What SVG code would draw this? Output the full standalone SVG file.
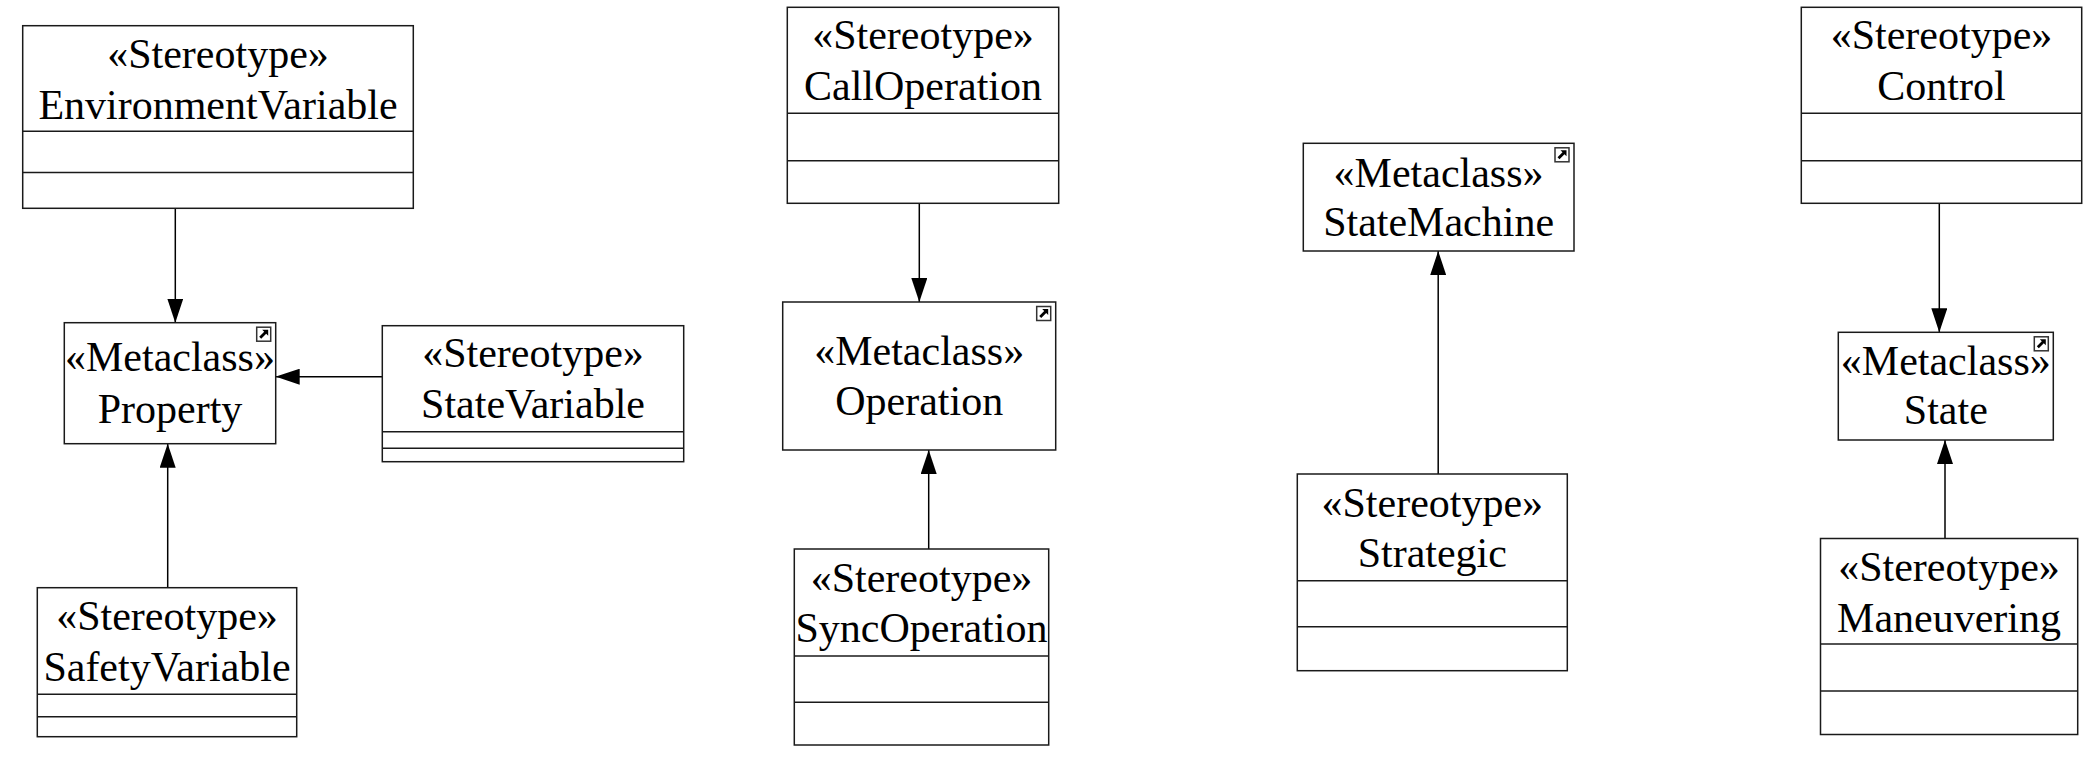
<svg xmlns="http://www.w3.org/2000/svg" width="2100" height="774" viewBox="0 0 2100 774">
<style>
.box{fill:#fff;stroke:#1a1a1a;stroke-width:1.5}
.div{stroke:#1a1a1a;stroke-width:1.5}
.t{font-family:"Liberation Serif","Times New Roman",serif;font-size:42px;fill:#000;text-anchor:middle}
.edge{stroke:#000;stroke-width:1.5;fill:none}
.ic{fill:#fff;stroke:#333;stroke-width:1.5}
.ia{fill:#000;stroke:none}
</style>
<defs>
<marker id="arr" markerUnits="userSpaceOnUse" markerWidth="24" markerHeight="16" refX="24" refY="8" orient="auto" viewBox="0 0 24 16">
<path d="M0,0 L24,8 L0,16 z" fill="#000"/>
</marker>
<g id="icon">
<rect class="ic" x="0" y="0" width="14" height="14"/>
<path class="ia" d="M2.5,9.5 L7.5,4.5 L5.5,2.5 L11.5,2.5 L11.5,8.5 L9.5,6.5 L4.5,11.5 z"/>
</g>
</defs>
<g id="connectors">
<line class="edge" x1="175.3" y1="208.3" x2="175.3" y2="322.7" marker-end="url(#arr)"/>
<line class="edge" x1="382.3" y1="376.7" x2="275.7" y2="376.7" marker-end="url(#arr)"/>
<line class="edge" x1="167.7" y1="587.7" x2="167.7" y2="443.7" marker-end="url(#arr)"/>
<line class="edge" x1="919.3" y1="203.3" x2="919.3" y2="302" marker-end="url(#arr)"/>
<line class="edge" x1="928.7" y1="549" x2="928.7" y2="450" marker-end="url(#arr)"/>
<line class="edge" x1="1438.2" y1="474" x2="1438.2" y2="251" marker-end="url(#arr)"/>
<line class="edge" x1="1939.3" y1="203.3" x2="1939.3" y2="332.3" marker-end="url(#arr)"/>
<line class="edge" x1="1945" y1="538.5" x2="1945" y2="440" marker-end="url(#arr)"/>
</g>
<g id="EnvironmentVariable">
<rect class="box" x="22.7" y="25.7" width="390.6" height="182.6"/>
<line class="div" x1="22.7" y1="131.3" x2="413.3" y2="131.3"/>
<line class="div" x1="22.7" y1="172.5" x2="413.3" y2="172.5"/>
<text class="t" x="218" y="67.7">«Stereotype»</text>
<text class="t" x="218" y="119">EnvironmentVariable</text>
</g>
<g id="Property">
<rect class="box" x="64.3" y="322.7" width="211.4" height="121"/>
<use href="#icon" x="256.7" y="327.2"/>
<text class="t" x="170" y="370.5">«Metaclass»</text>
<text class="t" x="170" y="422.5">Property</text>
</g>
<g id="StateVariable">
<rect class="box" x="382.3" y="325.7" width="301.4" height="136"/>
<line class="div" x1="382.3" y1="431.7" x2="683.7" y2="431.7"/>
<line class="div" x1="382.3" y1="448.3" x2="683.7" y2="448.3"/>
<text class="t" x="533" y="367">«Stereotype»</text>
<text class="t" x="533" y="418.3">StateVariable</text>
</g>
<g id="SafetyVariable">
<rect class="box" x="37.3" y="587.7" width="259.4" height="149"/>
<line class="div" x1="37.3" y1="694.3" x2="296.7" y2="694.3"/>
<line class="div" x1="37.3" y1="716.7" x2="296.7" y2="716.7"/>
<text class="t" x="167" y="629.5">«Stereotype»</text>
<text class="t" x="167" y="681">SafetyVariable</text>
</g>
<g id="CallOperation">
<rect class="box" x="787.3" y="7.3" width="271.4" height="196"/>
<line class="div" x1="787.3" y1="113.3" x2="1058.7" y2="113.3"/>
<line class="div" x1="787.3" y1="160.7" x2="1058.7" y2="160.7"/>
<text class="t" x="923" y="49.3">«Stereotype»</text>
<text class="t" x="923" y="100.3">CallOperation</text>
</g>
<g id="Operation">
<rect class="box" x="782.7" y="302" width="273" height="148"/>
<use href="#icon" x="1036.7" y="306.5"/>
<text class="t" x="919.2" y="365">«Metaclass»</text>
<text class="t" x="919.2" y="415">Operation</text>
</g>
<g id="SyncOperation">
<rect class="box" x="794.3" y="549" width="254.4" height="196"/>
<line class="div" x1="794.3" y1="656" x2="1048.7" y2="656"/>
<line class="div" x1="794.3" y1="702.3" x2="1048.7" y2="702.3"/>
<text class="t" x="921.5" y="591.7">«Stereotype»</text>
<text class="t" x="921.5" y="641.7">SyncOperation</text>
</g>
<g id="StateMachine">
<rect class="box" x="1303.3" y="143.3" width="270.7" height="107.7"/>
<use href="#icon" x="1555" y="147.8"/>
<text class="t" x="1438.6" y="187">«Metaclass»</text>
<text class="t" x="1438.6" y="236">StateMachine</text>
</g>
<g id="Strategic">
<rect class="box" x="1297.3" y="474" width="270" height="196.7"/>
<line class="div" x1="1297.3" y1="580.7" x2="1567.3" y2="580.7"/>
<line class="div" x1="1297.3" y1="626.7" x2="1567.3" y2="626.7"/>
<text class="t" x="1432.3" y="517.3">«Stereotype»</text>
<text class="t" x="1432.3" y="567.3">Strategic</text>
</g>
<g id="Control">
<rect class="box" x="1801.3" y="7.3" width="280.4" height="196"/>
<line class="div" x1="1801.3" y1="113.3" x2="2081.7" y2="113.3"/>
<line class="div" x1="1801.3" y1="160.7" x2="2081.7" y2="160.7"/>
<text class="t" x="1941.5" y="49.3">«Stereotype»</text>
<text class="t" x="1941.5" y="100.3">Control</text>
</g>
<g id="State">
<rect class="box" x="1838.3" y="332.3" width="215" height="107.7"/>
<use href="#icon" x="2034.3" y="336.8"/>
<text class="t" x="1945.8" y="374.5">«Metaclass»</text>
<text class="t" x="1945.8" y="423.5">State</text>
</g>
<g id="Maneuvering">
<rect class="box" x="1820.5" y="538.5" width="257.2" height="196"/>
<line class="div" x1="1820.5" y1="644" x2="2077.7" y2="644"/>
<line class="div" x1="1820.5" y1="691" x2="2077.7" y2="691"/>
<text class="t" x="1949" y="580.8">«Stereotype»</text>
<text class="t" x="1949" y="631.5">Maneuvering</text>
</g>
</svg>
